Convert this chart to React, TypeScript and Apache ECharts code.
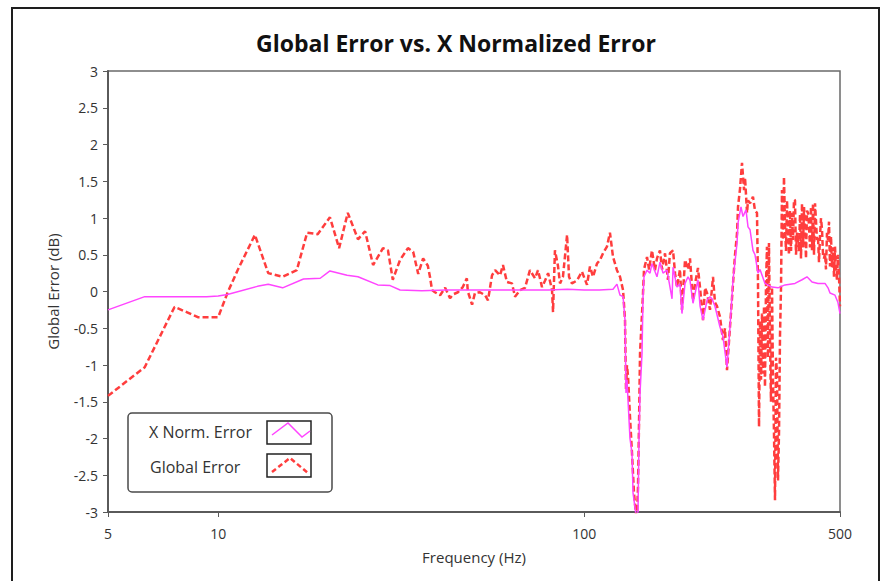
import React, { useEffect, useRef } from "react";
import * as echarts from "echarts";

const FONT = '"Open Sans", "Noto Sans", sans-serif';

const chartTitle = "Global Error vs. X Normalized Error";
const xAxisName = "Frequency (Hz)";
const yAxisName = "Global Error (dB)";
const seriesNames = ["X Norm. Error", "Global Error"];
const yTickStep = 0.5;

// [frequency (Hz), error (dB)]
const xNormErrorData: [number, number][] = [
  [5, -0.25], [6.3, -0.07], [9.3, -0.07], [10.0, -0.06], [10.6, -0.04],
  [12.8, 0.07], [13.7, 0.1], [15.0, 0.05], [17.1, 0.17], [19.0, 0.18],
  [20.2, 0.28], [22.5, 0.22], [24.1, 0.2], [27.3, 0.09], [29.5, 0.08],
  [31.4, 0.02], [36.0, 0.01], [42.0, 0.02], [50.0, 0.02], [60.0, 0.02],
  [70.0, 0.02], [80.0, 0.02], [90.0, 0.03], [100.0, 0.02], [110.0, 0.02],
  [119.9, 0.03], [122.9, 0.1], [125.3, -0.05], [127.7, -0.07], [129.3, -0.39],
  [130.1, -1.38], [130.9, -1.2], [133.4, -2.0], [135.1, -2.2], [136.0, -2.74],
  [138.6, -3.05], [140.3, -3.0], [141.2, -2.0], [142.1, -1.38], [143.9, -0.84],
  [144.8, -0.07], [145.7, 0.2], [148.5, 0.29], [151.3, 0.25], [153.2, 0.38],
  [158.1, 0.2], [161.1, 0.4], [164.2, 0.25], [168.4, 0.29], [173.8, -0.1],
  [174.9, 0.33], [179.3, 0.06], [182.7, 0.1], [185.0, -0.3], [188.6, 0.11],
  [192.2, 0.2], [194.6, 0.15], [198.3, -0.16], [204.6, 0.16], [207.3, -0.2],
  [211.2, -0.39], [216.6, -0.12], [220.7, -0.07], [223.5, -0.1], [227.7, -0.2],
  [234.9, -0.48], [239.4, -0.61], [245.6, -1.03], [250.3, -0.48], [255.1, 0.16],
  [261.6, 0.66], [263.2, 0.93], [268.2, 1.15], [271.6, 1.02], [276.8, 1.11],
  [280.3, 0.88], [283.9, 0.84], [289.2, 0.56], [292.9, 0.5], [298.5, 0.25],
  [302.3, 0.3], [311.9, 0.11], [326.0, 0.06], [338.5, 0.05], [353.8, 0.09],
  [376.7, 0.11], [393.7, 0.16], [406.2, 0.2], [419.3, 0.13], [435.4, 0.11],
  [455.0, 0.11], [463.7, 0.05], [469.5, -0.02], [484.5, -0.05], [493.7, -0.15],
  [500, -0.3],
];

const globalErrorData: [number, number][] = [
  [5, -1.42], [6.3, -1.03], [7.6, -0.21], [8.2, -0.28], [8.8, -0.35],
  [10.0, -0.35], [10.6, -0.02], [11.3, 0.29], [12.6, 0.77], [13.7, 0.25],
  [15.0, 0.2], [16.4, 0.29], [17.5, 0.8], [18.7, 0.78], [20.2, 1.01],
  [21.4, 0.59], [22.6, 1.07], [24.1, 0.71], [25.2, 0.82], [26.5, 0.36],
  [28.2, 0.59], [29.1, 0.56], [30.0, 0.16], [31.4, 0.43], [33.0, 0.59],
  [34.1, 0.54], [35.2, 0.24], [36.3, 0.45], [37.4, 0.35], [37.9, 0.2],
  [38.4, 0.02], [39.1, -0.01], [40.4, -0.05], [41.7, 0.05], [43.0, -0.09],
  [43.8, -0.04], [45.2, -0.01], [46.6, 0.06], [47.8, 0.18], [48.1, 0.0],
  [49.4, -0.18], [50.3, -0.02], [51.9, -0.01], [53.6, -0.05], [54.6, -0.12],
  [56.0, 0.22], [57.1, 0.29], [58.9, 0.22], [60.0, 0.36], [61.5, 0.13],
  [63.5, 0.11], [64.7, -0.07], [66.8, 0.02], [68.9, 0.05], [71.1, 0.29],
  [73.4, 0.18], [74.8, 0.29], [76.7, 0.06], [78.2, 0.15], [79.7, 0.25],
  [81.7, 0.02], [82.2, -0.28], [83.2, 0.56], [84.8, 0.35], [85.9, 0.11],
  [87.5, 0.2], [89.8, 0.77], [90.9, 0.2], [92.6, 0.11], [95.6, 0.15],
  [98.6, 0.27], [101.8, 0.09], [103.7, 0.34], [105.7, 0.2], [108.4, 0.38],
  [110.5, 0.43], [112.6, 0.52], [115.4, 0.61], [117.6, 0.8], [119.9, 0.47],
  [122.9, 0.29], [125.3, 0.2], [127.7, 0.02], [129.3, -0.39], [130.1, -1.34],
  [130.9, -1.0], [131.8, -1.16], [133.4, -1.7], [135.1, -2.2], [136.8, -2.74],
  [138.6, -3.05], [139.4, -3.05], [140.3, -2.66], [141.2, -1.8], [142.1, -0.84],
  [143.9, -0.3], [144.8, -0.02], [145.7, 0.3], [148.5, 0.47], [150.4, 0.3],
  [153.2, 0.56], [156.1, 0.29], [158.1, 0.45], [161.1, 0.56], [163.2, 0.3],
  [166.3, 0.52], [169.4, 0.16], [171.5, 0.52], [174.9, 0.56], [177.1, 0.25],
  [179.3, 0.06], [182.7, 0.3], [185.0, -0.25], [188.6, 0.43], [192.2, 0.3],
  [194.6, 0.45], [198.3, -0.12], [200.8, 0.1], [204.6, 0.32], [207.3, 0.05],
  [211.2, -0.39], [213.9, 0.05], [216.6, -0.02], [220.7, -0.25], [224.9, 0.2],
  [227.7, -0.15], [230.6, -0.2], [234.9, -0.34], [239.4, -0.66], [242.5, -0.5],
  [245.6, -1.07], [250.3, -0.48], [255.1, 0.11], [258.3, 0.5], [261.6, 0.79],
  [263.2, 1.15], [266.6, 1.4], [269.9, 1.75], [273.4, 1.38], [275.1, 1.55],
  [278.6, 1.07], [280.3, 1.24], [283.9, 1.2], [289.2, 1.29], [292.9, 1.1],
  [296.6, 1.07], [298.5, 0.11], [300.4, -1.84], [302.3, -0.4], [304.2, -1.2],
  [306.1, -0.3], [308.0, -1.12], [310.0, -0.2], [311.9, -1.3], [313.9, 0.1],
  [315.8, 0.61], [317.8, -0.9], [319.8, 0.66], [321.9, -0.66], [323.9, -1.5],
  [326.0, 0.06], [328.0, -1.2], [330.1, -1.93], [332.2, -2.84], [334.3, -0.9],
  [336.4, -1.12], [338.5, -2.57], [340.7, -1.9], [342.8, -0.6], [345.0, 0.06],
  [347.1, 1.38], [349.3, 0.7], [351.5, 1.56], [353.8, 0.9], [356.0, 0.55],
  [358.3, 1.24], [360.5, 0.79], [362.7, 0.5], [365.0, 1.1], [367.4, 0.55],
  [369.8, 1.07], [372.0, 0.7], [374.3, 1.25], [376.7, 1.24], [379.1, 0.5],
  [381.5, 0.8], [383.9, 0.7], [386.3, 0.55], [388.8, 1.05], [391.2, 0.45],
  [393.7, 1.2], [396.2, 0.6], [398.7, 1.15], [401.2, 0.88], [403.7, 0.45],
  [406.2, 1.1], [408.8, 1.07], [411.4, 0.9], [414.0, 0.6], [416.6, 1.15],
  [419.3, 0.56], [421.9, 1.2], [424.6, 0.5], [427.3, 1.2], [430.0, 0.95],
  [432.6, 0.7], [435.4, 0.75], [438.1, 0.4], [440.9, 0.75], [443.7, 1.0],
  [446.5, 0.84], [449.3, 0.5], [452.2, 0.45], [455.0, 0.52], [457.8, 0.3],
  [460.7, 0.8], [463.7, 0.7], [466.6, 0.95], [469.5, 0.34], [472.5, 0.75],
  [475.5, 0.33], [478.5, 0.6], [481.5, 0.2], [484.5, 0.61], [487.6, 0.3],
  [490.6, 0.16], [493.7, 0.5], [496.9, 0.2], [500, -0.2],
];

const MAGENTA = "#ff45ff";
const RED = "#ff3d3d";
const AXIS = "#5a5a5a";
const TEXT = "#333333";

export default function App() {
  const ref = useRef<HTMLDivElement>(null);

  useEffect(() => {
    if (!ref.current) return;
    const chart = echarts.init(ref.current, undefined, { renderer: "svg" });

    const legendX = 128;
    const legendY = 413;

    chart.setOption({
      animation: false,
      backgroundColor: "#ffffff",
      title: {
        text: chartTitle,
        left: 451,
        top: 26,
        textAlign: "center",
        textStyle: { fontFamily: FONT, fontWeight: "bold", fontSize: 23, color: "#111" },
      },
      grid: {
        left: 108,
        right: 44,
        top: 71,
        bottom: 69,
        show: true,
        borderColor: "#6a6a6a",
        borderWidth: 1.5,
        backgroundColor: "transparent",
      },
      xAxis: {
        type: "log",
        logBase: 10,
        min: 5,
        max: 500,
        name: xAxisName,
        nameLocation: "middle",
        nameGap: 37,
        nameTextStyle: { fontFamily: FONT, fontSize: 15, color: TEXT },
        axisLine: { show: true, onZero: false, lineStyle: { color: AXIS, width: 2 } },
        axisTick: { show: true, inside: false, length: 5, lineStyle: { color: AXIS } },
        minorTick: { show: false },
        splitLine: { show: false },
        axisLabel: {
          margin: 14,
          fontFamily: FONT,
          fontSize: 14,
          color: TEXT,
          formatter: (v: number) => String(Math.round(v)),
        },
      },
      yAxis: {
        type: "value",
        min: -3,
        max: 3,
        interval: yTickStep,
        name: yAxisName,
        nameLocation: "middle",
        nameGap: 48,
        nameTextStyle: { fontFamily: FONT, fontSize: 15, color: TEXT },
        axisLine: { show: true, onZero: false, lineStyle: { color: AXIS, width: 2 } },
        axisTick: { show: true, inside: false, length: 5, lineStyle: { color: AXIS } },
        splitLine: { show: false },
        axisLabel: { margin: 10, fontFamily: FONT, fontSize: 14, color: TEXT },
      },
      series: [
        {
          name: seriesNames[1],
          type: "line",
          data: globalErrorData,
          showSymbol: false,
          clip: true,
          lineStyle: { color: RED, width: 2.5, type: [6, 3] },
          z: 2,
        },
        {
          name: seriesNames[0],
          type: "line",
          data: xNormErrorData,
          showSymbol: false,
          clip: true,
          lineStyle: { color: MAGENTA, width: 1.5 },
          z: 3,
        },
      ],
      graphic: [
        {
          type: "rect",
          shape: { x: 12, y: 8, width: 867, height: 600 },
          style: { fill: "none", stroke: "#1e1e1e", lineWidth: 2 },
          silent: true,
          z: 0,
        },
        {
          type: "group",
          z: 20,
          children: [
            {
              type: "rect",
              shape: { x: legendX, y: legendY, width: 204, height: 79, r: 4 },
              style: { fill: "#ffffff", stroke: "#4a4a4a", lineWidth: 1.5 },
            },
            {
              type: "text",
              x: legendX + 21,
              y: legendY + 19,
              style: {
                text: seriesNames[0],
                fontFamily: FONT,
                fontSize: 16,
                fill: TEXT,
                verticalAlign: "middle",
              },
            },
            {
              type: "text",
              x: legendX + 22,
              y: legendY + 54,
              style: {
                text: seriesNames[1],
                fontFamily: FONT,
                fontSize: 16,
                fill: TEXT,
                verticalAlign: "middle",
              },
            },
            {
              type: "rect",
              shape: { x: legendX + 139, y: legendY + 8, width: 44, height: 23 },
              style: { fill: "#ffffff", stroke: "#222", lineWidth: 1.5 },
            },
            {
              type: "polyline",
              shape: {
                points: [
                  [legendX + 144, legendY + 22],
                  [legendX + 160, legendY + 10],
                  [legendX + 174, legendY + 24],
                  [legendX + 182, legendY + 18],
                ],
              },
              style: { stroke: MAGENTA, lineWidth: 1.5, fill: "none" },
            },
            {
              type: "rect",
              shape: { x: legendX + 139, y: legendY + 41, width: 44, height: 23 },
              style: { fill: "#ffffff", stroke: "#222", lineWidth: 1.5 },
            },
            {
              type: "polyline",
              shape: {
                points: [
                  [legendX + 144, legendY + 59],
                  [legendX + 162, legendY + 45],
                  [legendX + 180, legendY + 60],
                ],
              },
              style: { stroke: RED, lineWidth: 2.5, fill: "none", lineDash: [5, 3] },
            },
          ],
        },
      ],
    });

    return () => chart.dispose();
  }, []);

  return (
    <div
      ref={ref}
      style={{ position: "absolute", left: 0, top: 0, width: 884, height: 581 }}
    />
  );
}
